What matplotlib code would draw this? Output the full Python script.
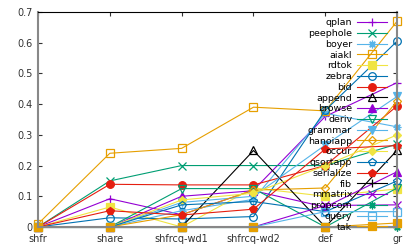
import numpy as np
import matplotlib
matplotlib.use("Agg")
import matplotlib.pyplot as plt

cats = ["shfr", "share", "shfrcq-wd1", "shfrcq-wd2", "def", "gr"]

names = ["qplan", "peephole", "boyer", "aiakl", "rdtok", "zebra", "bid",
         "append", "browse", "deriv", "grammar", "hanoiapp", "occur",
         "qsortapp", "serialize", "fib", "mmatrix", "propcom", "query", "tak"]

qplan = [0, 0.092, 0.04, 0.12, 0.36, 0.47]
peephole = [0, 0.15, 0.20, 0.20, 0.20, 0.27]
boyer = [0, 0, 0.053, 0.09, 0.37, 0.326]
aiakl = [0.01, 0.24, 0.256, 0.39, 0.378, 0.67]
rdtok = [0, 0.065, 0.0, 0.127, 0.10, 0.124]
zebra = [0, 0.03, 0.026, 0.034, 0.38, 0.605]
bid = [0, 0.139, 0.137, 0.137, 0.20, 0.394]
append = [0, 0, 0, 0.249, 0, 0.25]
browse = [0, 0, 0.10, 0.118, 0.065, 0.18]
deriv = [0, 0, 0.125, 0.125, 0, 0.127]
grammar = [0, 0, 0.08, 0.10, 0.267, 0.425]
hanoiapp = [0, 0, 0.04, 0.12, 0.127, 0.41]
occur = [0, 0, 0.088, 0.11, 0.20, 0.30]
qsortapp = [0, 0, 0.072, 0.083, 0.05, 0.15]
serialize = [0, 0.053, 0.039, 0.058, 0.254, 0.265]
fib = [0, 0, 0, 0, 0, 0]
mmatrix = [0, 0, 0, 0, 0.07, 0.072]
propcom = [0, 0, 0, 0, 0, 0]
query = [0, 0, 0, 0, 0.05, 0.05]
tak = [0, 0, 0, 0, 0, 0.013]

series = [qplan, peephole, boyer, aiakl, rdtok, zebra, bid, append, browse,
          deriv, grammar, hanoiapp, occur, qsortapp, serialize, fib,
          mmatrix, propcom, query, tak]

gp_colors = ["#9400d3", "#009e73", "#56b4e9", "#e69f00",
             "#f0e442", "#0072b2", "#e51e10", "#000000"]
# gnuplot point types 1..15: (marker, filled)
gp_points = [("+", True), ("x", True), ((8, 2, 0), True), ("s", False),
             ("s", True), ("o", False), ("o", True), ("^", False),
             ("^", True), ("v", False), ("v", True), ("D", False),
             ("D", True), ("p", False), ("p", True)]

fig = plt.figure(figsize=(4.15, 2.49), dpi=100)
ax = fig.add_axes([0.0916, 0.0884, 0.8654, 0.8636])

x = np.arange(len(cats))
for i, (name, vals) in enumerate(zip(names, series)):
    c = gp_colors[i % 8]
    m, filled = gp_points[i % 15]
    ms = 4.5 if m == "D" else 5.5
    ax.plot(x, vals, color=c, lw=0.8, marker=m, ms=ms, mew=0.9,
            mfc=c if filled else "none", mec=c, label=name, clip_on=False)

ax.set_xlim(0, 5)
ax.set_ylim(0, 0.7)
ax.set_xticks(x)
ax.set_xticklabels(cats)
ax.set_yticks(np.arange(0, 0.71, 0.1))
ax.set_yticklabels(["0", "0.1", "0.2", "0.3", "0.4", "0.5", "0.6", "0.7"])
ax.tick_params(direction="in", length=3, width=0.8, labelsize=7,
               top=True, right=True, colors="#333333")
ax.tick_params(axis="x", pad=5)
ax.tick_params(axis="y", pad=4)

for s in ["left", "right", "bottom"]:
    ax.spines[s].set_color("#888888")
    ax.spines[s].set_linewidth(1.5)
ax.spines["top"].set_color("black")
ax.spines["top"].set_linewidth(0.8)

leg = ax.legend(loc="upper right", bbox_to_anchor=(0.972, 0.97),
                frameon=False, markerfirst=False, fontsize=6.8,
                labelspacing=0.185, handlelength=3.2, handletextpad=0.5,
                borderpad=0, borderaxespad=0, numpoints=1)

fig.savefig("out.png", dpi=100)
